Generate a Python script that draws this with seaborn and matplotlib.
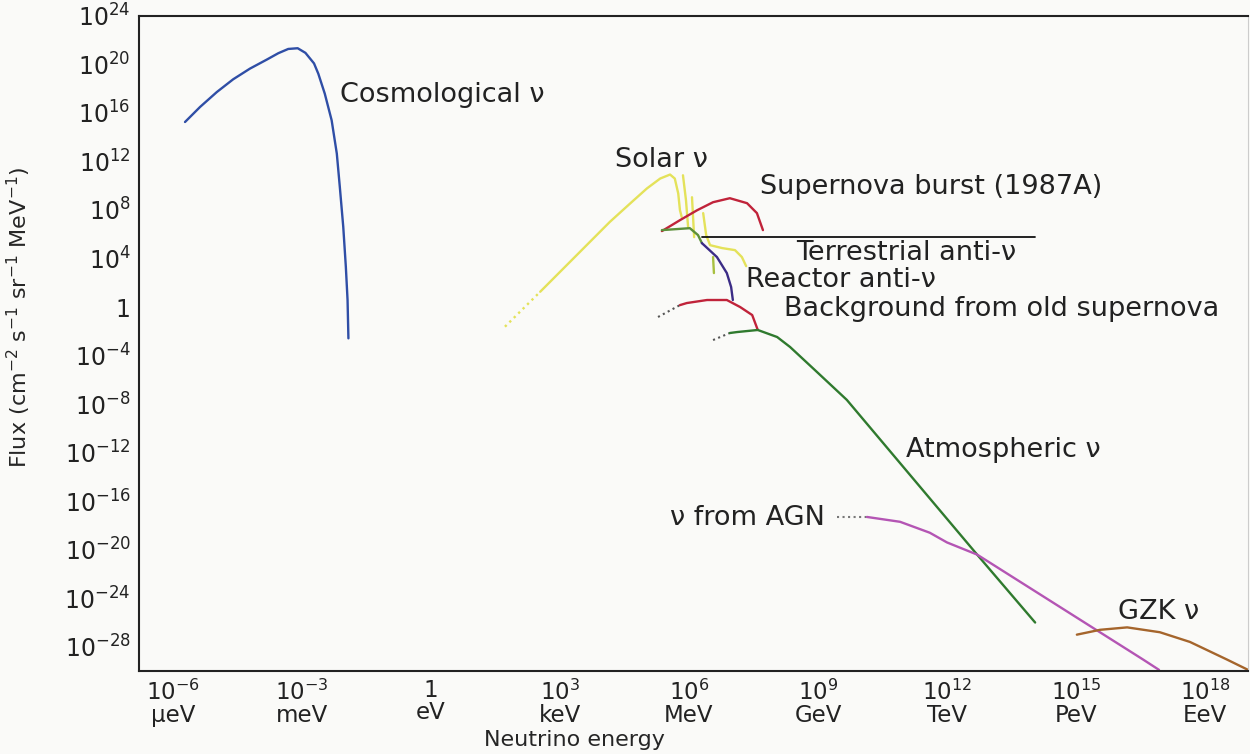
import numpy as np
import matplotlib
matplotlib.use("Agg")
import matplotlib.pyplot as plt
from matplotlib.ticker import NullLocator
import seaborn as sns

# Points, as log10(energy / eV) and log10(flux)
cosmo_logE = [-5.72, -5.37, -4.98, -4.60, -4.21, -3.82, -3.55, -3.32, -3.10, -2.92,
              -2.72, -2.62, -2.47, -2.31, -2.19, -2.12, -2.04, -1.98, -1.94, -1.92]
cosmo_logF = [15.25, 16.49, 17.72, 18.77, 19.65, 20.39, 20.92, 21.27, 21.33, 20.95,
              20.08, 19.23, 17.59, 15.39, 12.65, 9.90, 6.61, 3.32, 0.58, -2.58]

solar_dot_logE = [1.72, 2.54]
solar_dot_logF = [-1.62, 1.26]
solar_logE = [2.54, 3.08, 3.62, 4.16, 4.63, 5.02, 5.33, 5.56, 5.67, 5.75, 5.79, 5.83]
solar_logF = [1.26, 3.18, 5.10, 7.02, 8.53, 9.77, 10.59, 10.92, 10.59, 9.36, 7.98, 7.43]
solar_line1_logE = [5.86, 5.93, 5.98]
solar_line1_logF = [10.86, 8.81, 6.58]
solar_line2_logE = [6.07, 6.12]
solar_line2_logF = [9.05, 5.76]
solar_b8_logE = [6.33, 6.40, 6.49, 6.77, 7.07, 7.23, 7.33]
solar_b8_logF = [7.74, 5.93, 5.10, 4.86, 4.69, 4.12, 3.37]
solar_hep_logE = [6.56, 6.58]
solar_hep_logF = [4.12, 2.80]

sn_logE = [5.37, 5.79, 6.19, 6.56, 6.95, 7.35, 7.58, 7.72]
sn_logF = [6.26, 7.16, 7.98, 8.64, 8.97, 8.56, 7.74, 6.34]

geo_logE = [5.37, 6.02, 6.21, 6.30]
geo_logF = [6.34, 6.50, 5.93, 5.27]
terr_logE = [6.30, 14.05]
terr_logF = [5.76, 5.76]

reactor_logE = [6.30, 6.65, 6.88, 6.98, 7.02]
reactor_logF = [5.27, 4.12, 2.80, 1.65, 0.58]

bg_dot_logE = [5.28, 5.79]
bg_dot_logF = [-0.82, 0.16]
bg_logE = [5.79, 5.95, 6.42, 6.88, 7.19, 7.47, 7.60]
bg_logF = [0.16, 0.33, 0.58, 0.58, 0.00, -0.66, -1.89]

atm_dot_logE = [6.56, 6.95]
atm_dot_logF = [-2.72, -2.14]
atm_logE = [6.95, 7.12, 7.60, 8.05, 8.35, 8.93, 9.67, 12.70, 14.05]
atm_logF = [-2.14, -2.06, -1.89, -2.47, -3.29, -5.20, -7.65, -20.40, -26.00]

agn_dot_logE = [9.44, 10.14]
agn_dot_logF = [-17.3, -17.3]
agn_logE = [10.14, 10.91, 11.60, 12.00, 12.70, 16.56, 16.93]
agn_logF = [-17.30, -17.70, -18.60, -19.40, -20.40, -29.05, -29.90]

gzk_logE = [15.02, 15.56, 16.19, 16.95, 17.65, 18.51, 19.00]
gzk_logF = [-27.0, -26.6, -26.4, -26.8, -27.6, -29.05, -29.90]

x_tick_exps = [-6, -3, 0, 3, 6, 9, 12, 15, 18]
x_tick_units = ["\u03bceV", "meV", "eV", "keV", "MeV", "GeV", "TeV", "PeV", "EeV"]
y_tick_exps = [-28, -24, -20, -16, -12, -8, -4, 0, 4, 8, 12, 16, 20, 24]

sns.set_style("white")
plt.rcParams['font.family'] = ['DejaVu Sans']
plt.rcParams['mathtext.fontset'] = 'dejavusans'

fig = plt.figure(figsize=(12.5, 7.54), dpi=100, facecolor='#fafaf8')
ax = fig.add_axes([0.1112, 0.110, 0.8872, 0.869])
ax.set_facecolor('#fafaf8')
ax.set_xscale('log')
ax.set_yscale('log')


def draw(logE, logF, color, ls='-', lw=1.7):
    sns.lineplot(x=10.0 ** np.array(logE), y=10.0 ** np.array(logF), ax=ax,
                 color=color, linestyle=ls, linewidth=lw, sort=False, estimator=None)


yellow = '#e4e25a'
red = '#c0233a'
draw(cosmo_logE, cosmo_logF, '#2f4ea6')
draw(solar_dot_logE, solar_dot_logF, yellow, ':')
draw(solar_logE, solar_logF, yellow)
draw(solar_line1_logE, solar_line1_logF, yellow)
draw(solar_line2_logE, solar_line2_logF, yellow)
draw(solar_b8_logE, solar_b8_logF, yellow)
draw(solar_hep_logE, solar_hep_logF, '#a8c040')
draw(sn_logE, sn_logF, red)
draw(geo_logE, geo_logF, '#5c8f3a')
draw(terr_logE, terr_logF, '#111111', lw=1.3)
draw(reactor_logE, reactor_logF, '#3b2c86')
draw(bg_dot_logE, bg_dot_logF, '#555555', ':', 1.5)
draw(bg_logE, bg_logF, red)
draw(atm_dot_logE, atm_dot_logF, '#555555', ':', 1.5)
draw(atm_logE, atm_logF, '#2f7a2e')
draw(agn_dot_logE, agn_dot_logF, '#777777', ':', 1.5)
draw(agn_logE, agn_logF, '#b455b4')
draw(gzk_logE, gzk_logF, '#a5652c')

ax.set_xlim(10 ** -6.79, 10 ** 19.0)
ax.set_ylim(1e-30, 1e24)

ax.set_xticks([10.0 ** k for k in range(-6, 19)])
ax.set_xticklabels([(f"$10^{{{k}}}$\n" + x_tick_units[x_tick_exps.index(k)])
                    if k in x_tick_exps and k != 0 else ("1\neV" if k == 0 else "")
                    for k in range(-6, 19)], fontsize=16.5, linespacing=0.95)
ax.set_yticks([10.0 ** k for k in range(-28, 25, 2)])
ax.set_yticklabels([("1" if k == 0 else f"$10^{{{k}}}$") if k in y_tick_exps else ""
                    for k in range(-28, 25, 2)], fontsize=17)
ax.xaxis.set_minor_locator(NullLocator())
ax.yaxis.set_minor_locator(NullLocator())
ax.tick_params(direction='in', length=8, width=1.3, colors='#222222', pad=6)

for side in ['left', 'bottom', 'top']:
    ax.spines[side].set_color('#222222')
    ax.spines[side].set_linewidth(1.5)
ax.spines['right'].set_color('#cccccc')

ax.set_xlabel("Neutrino energy", fontsize=16)
ax.xaxis.set_label_coords(0.393, -0.09)
ax.set_ylabel("Flux (cm$^{-2}$ s$^{-1}$ sr$^{-1}$ MeV$^{-1}$)", fontsize=16)
ax.yaxis.set_label_coords(-0.0955, 0.54)

# (text, log10 x, log10 y, alignment)
labels = [
    ("Cosmological \u03bd", -2.12, 17.45, 'left'),
    ("Solar \u03bd", 4.28, 12.1, 'left'),
    ("Supernova burst (1987A)", 7.65, 9.9, 'left'),
    ("Terrestrial anti-\u03bd", 8.50, 4.45, 'left'),
    ("Reactor anti-\u03bd", 7.32, 2.2, 'left'),
    ("Background from old supernova", 8.20, -0.2, 'left'),
    ("Atmospheric \u03bd", 11.05, -11.8, 'left'),
    ("\u03bd from AGN", 9.16, -17.4, 'right'),
    ("GZK \u03bd", 15.98, -25.1, 'left'),
]
for text, lx, ly, ha in labels:
    ax.text(10 ** lx, 10 ** ly, text, fontsize=19.5, ha=ha, va='center', color='#222222')

fig.savefig("out.png", dpi=100, facecolor=fig.get_facecolor())
